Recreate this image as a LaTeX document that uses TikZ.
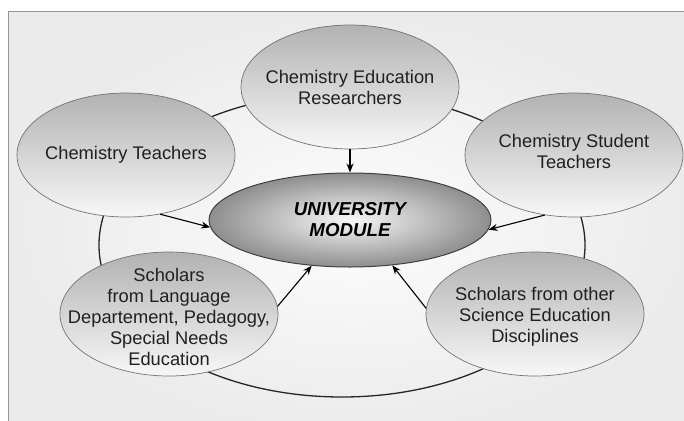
\documentclass[tikz,border=0pt]{standalone}
\usepackage{fontspec}
\setmainfont{Liberation Sans}
\usepackage{tikz}
\usetikzlibrary{shapes.geometric, arrows.meta}
\definecolor{bubbleTop}{RGB}{178,178,178}
\definecolor{bubbleBottom}{RGB}{247,247,247}
\definecolor{coreOuter}{RGB}{142,142,142}
\definecolor{coreInner}{RGB}{248,248,248}
\definecolor{frameGray}{RGB}{150,150,150}
\definecolor{textGray}{RGB}{32,32,32}

\begin{document}
\begin{tikzpicture}[x=1pt, y=-1pt,
  every node/.style={font=\fontsize{18.3}{21}\selectfont, text=textGray, align=center},
  bubble/.style={ellipse, draw=black!55, line width=0.7pt, top color=bubbleTop, bottom color=bubbleBottom,
    minimum width=218pt, minimum height=124pt, inner sep=0pt},
  core/.style={ellipse, draw=black!75, line width=1pt, inner color=coreInner, outer color=coreOuter,
    minimum width=282pt, minimum height=94pt, inner sep=0pt, text=black,
    font=\fontsize{18.7}{21}\selectfont\bfseries\itshape},
  link/.style={-{Stealth[length=9pt, width=7pt]}, line width=1.1pt}]
  \useasboundingbox (0,0) rectangle (684,420);
  \clip (0,0) rectangle (684,420);
  % background panel
  \fill[white] (0,0) rectangle (684,420);
  \shade[inner color=gray!2, outer color=gray!16, draw=frameGray, line width=1pt] (8,12) rectangle (700,440);
  % ring behind the bubbles
  \draw[line width=1.3pt, black!85] (342,245) ellipse [x radius=243, y radius=152];
  % bubbles
  \node[bubble, label={center:{Chemistry Education\\Researchers}}] (ce) at (350,87) {};
  \node[bubble, label={center:{Chemistry Teachers}}] (ct) at (126,155) {};
  \node[bubble, label={[yshift=4pt]center:{Chemistry Student\\Teachers}}] (rt) at (574,155) {};
  \node[bubble, label={[yshift=-3pt]center:{Scholars\\from Language\\Departement, Pedagogy,\\Special Needs\\Education}}] (bl) at (169,314) {};
  \node[bubble, label={[yshift=-3pt]center:{Scholars from other\\Science Education\\Disciplines}}] (br) at (535,314) {};
  \node[core] (um) at (350,220) {UNIVERSITY\\MODULE};
  % arrows into the module
  \draw[link] (ce.south) -- (um.north);
  \draw[link] (ct.-60) -- (um.183);
  \draw[link] (rt.244) -- (um.-4);
  \draw[link] (bl.4) -- (um.230);
  \draw[link] (br.177) -- (um.-47);
\end{tikzpicture}
\end{document}
